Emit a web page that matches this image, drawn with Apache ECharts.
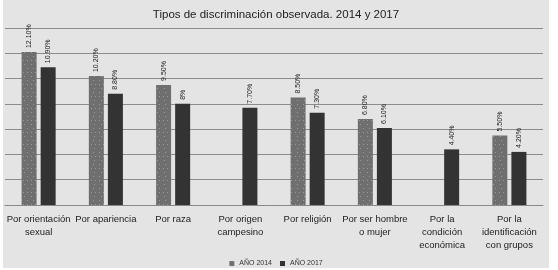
<!DOCTYPE html>
<html>
<head>
<meta charset="utf-8">
<script src="https://cdn.jsdelivr.net/npm/echarts@6/dist/echarts.min.js"></script>
<style>
  html, body { margin: 0; padding: 0; background: #fff; }
  #main { position: absolute; left: 3px; top: 0; width: 546px; height: 268px; background: #e4e4e4; }
</style>
</head>
<body>
<div id="main"></div>
<script>
var categories = [
  'Por orientación\nsexual', 'Por apariencia', 'Por raza', 'Por origen\ncampesino',
  'Por religión', 'Por ser hombre\no mujer', 'Por la\ncondición\neconómica', 'Por la\nidentificación\ncon grupos'
]
var data2014 = [12.1, 10.2, 9.5, null, 8.5, 6.8, null, 5.5]
var data2017 = [10.9, 8.8, 8, 7.7, 7.3, 6.1, 4.4, 4.2]
var labels2014 = ['12.10%', '10.20%', '9.50%', '', '8.50%', '6.80%', '', '5.50%']
var labels2017 = ['10.90%', '8.80%', '8%', '7.70%', '7.30%', '6.10%', '4.40%', '4.20%']

var chart = echarts.init(document.getElementById('main'))

function barLabel(texts) {
  return {
    show: true,
    position: 'top',
    rotate: 90,
    align: 'left',
    verticalAlign: 'middle',
    distance: 4,
    fontSize: 7,
    color: '#222',
    fontFamily: 'Liberation Sans',
    formatter: function (p) { return texts[p.dataIndex] }
  }
}

chart.setOption({
  animation: false,
  title: {
    text: 'Tipos de discriminación observada. 2014 y 2017',
    left: 'center',
    top: 4,
    textStyle: { fontSize: 11.5, fontWeight: 'normal', color: '#222', fontFamily: 'Liberation Sans' }
  },
  legend: {
    bottom: 1,
    padding: 0,
    left: 'center',
    icon: 'rect',
    itemWidth: 5,
    itemHeight: 5,
    itemGap: 8,
    textStyle: { fontSize: 7, color: '#333', fontFamily: 'Liberation Sans' },
    data: ['AÑO 2014', 'AÑO 2017']
  },
  grid: { left: 2, right: 6, top: 28, bottom: 63 },
  xAxis: {
    type: 'category',
    data: categories,
    axisTick: { show: false },
    axisLine: { lineStyle: { color: '#888', width: 1 } },
    axisLabel: {
      interval: 0,
      fontSize: 9.5,
      lineHeight: 13,
      margin: 8,
      color: '#222',
      fontFamily: 'Liberation Sans'
    }
  },
  yAxis: {
    type: 'value',
    min: 0,
    max: 14,
    interval: 2,
    axisLabel: { show: false },
    axisLine: { show: false },
    axisTick: { show: false },
    splitLine: { lineStyle: { color: '#8c8c8c', width: 1 } }
  },
  series: [
    {
      name: 'AÑO 2014',
      type: 'bar',
      data: data2014,
      barWidth: 15,
      barGap: '27%',
      itemStyle: {
        color: '#6f6f6f',
        decal: {
          symbol: 'rect',
          symbolSize: 1,
          color: 'rgba(255,255,255,0.3)',
          dashArrayX: [[1, 5], [1, 3], [1, 6]],
          dashArrayY: [1, 3],
          rotation: 0
        }
      },
      label: barLabel(labels2014)
    },
    {
      name: 'AÑO 2017',
      type: 'bar',
      data: data2017,
      barWidth: 15,
      itemStyle: { color: '#333333' },
      label: barLabel(labels2017)
    }
  ]
})
</script>
</body>
</html>
